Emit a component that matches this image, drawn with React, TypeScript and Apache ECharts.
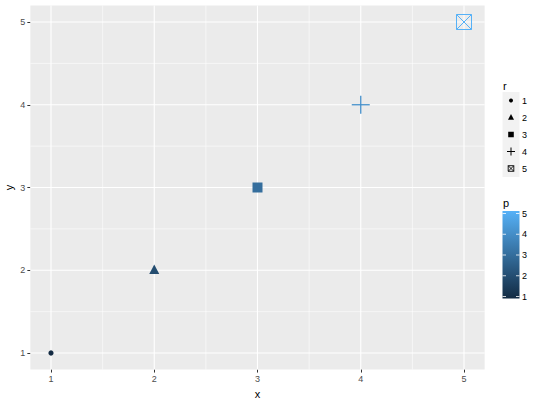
import React, { useEffect, useRef } from "react";
import * as echarts from "echarts";

// ---- data ----
const xValues = [1, 2, 3, 4, 5];
const yValues = [1, 2, 3, 4, 5];
const pValues = [1, 2, 3, 4, 5];
const rValues = [1, 2, 3, 4, 5];
const rLevels = ["1", "2", "3", "4", "5"];
const pTicks = [1, 2, 3, 4, 5];
const xTicks = [1, 2, 3, 4, 5];
const yTicks = [1, 2, 3, 4, 5];
const xMinor = [1.5, 2.5, 3.5, 4.5];
const yMinor = [1.5, 2.5, 3.5, 4.5];

// ---- styles ----
const LOW = "#132B43";
const HIGH = "#56B1F7";
const FONT = "Liberation Sans, Arial, sans-serif";
// marker half-sizes per shape (plot, legend)
const plotSize: Record<number, number> = { 1: 2.6, 2: 5, 3: 5, 4: 9, 5: 7.5 };
const legendSize: Record<number, number> = { 1: 2, 2: 3, 3: 2.8, 4: 4, 5: 2.8 };

function shapeEls(r: number, cx: number, cy: number, h: number, color: string): any[] {
  switch (r) {
    case 1:
      return [{ type: "circle", shape: { cx, cy, r: h }, style: { fill: color } }];
    case 2:
      return [
        {
          type: "polygon",
          shape: { points: [[cx, cy - h * 1.15], [cx - h, cy + h * 0.75], [cx + h, cy + h * 0.75]] },
          style: { fill: color },
        },
      ];
    case 3:
      return [{ type: "rect", shape: { x: cx - h, y: cy - h, width: 2 * h, height: 2 * h }, style: { fill: color } }];
    case 4: {
      const lw = h > 6 ? 1.3 : 1;
      return [
        { type: "line", shape: { x1: cx - h, y1: cy, x2: cx + h, y2: cy }, style: { stroke: color, lineWidth: lw } },
        { type: "line", shape: { x1: cx, y1: cy - h, x2: cx, y2: cy + h }, style: { stroke: color, lineWidth: lw } },
      ];
    }
    default: {
      const lw = h > 5 ? 1 : 0.9;
      return [
        { type: "rect", shape: { x: cx - h, y: cy - h, width: 2 * h, height: 2 * h }, style: { fill: "none", stroke: color, lineWidth: lw } },
        { type: "line", shape: { x1: cx - h, y1: cy - h, x2: cx + h, y2: cy + h }, style: { stroke: color, lineWidth: lw } },
        { type: "line", shape: { x1: cx - h, y1: cy + h, x2: cx + h, y2: cy - h }, style: { stroke: color, lineWidth: lw } },
      ];
    }
  }
}

export default function App() {
  const ref = useRef<HTMLDivElement>(null);
  useEffect(() => {
    if (!ref.current) return;
    const chart = echarts.init(ref.current, null, { renderer: "svg" });

    const pointData = xValues.map((x, i) => [x, yValues[i], pValues[i], rValues[i]]);
    const gridData: number[][] = [
      ...xTicks.map((v) => [v, 1, 0]),
      ...xMinor.map((v) => [v, 1, 1]),
      ...yTicks.map((v) => [1, v, 2]),
      ...yMinor.map((v) => [1, v, 3]),
    ];

    const legendEls: any[] = [];
    // y axis title
    legendEls.push({
      type: "text", x: 9, y: 187.5, rotation: Math.PI / 2,
      style: { text: "y", font: `11px ${FONT}`, fill: "#000", align: "center", verticalAlign: "middle" },
    });
    // shape legend
    legendEls.push({ type: "text", x: 503, y: 80, style: { text: "r", font: `11px ${FONT}`, fill: "#000" } });
    const keyTop = 92;
    rLevels.forEach((lab, i) => {
      const y0 = keyTop + i * 17;
      legendEls.push({ type: "rect", shape: { x: 502.5, y: y0, width: 17, height: 17 }, style: { fill: "#F2F2F2" } });
      shapeEls(i + 1, 511, y0 + 8.5, legendSize[i + 1], "#000").forEach((e) => legendEls.push(e));
      legendEls.push({
        type: "text", x: 522, y: y0 + 8.5,
        style: { text: lab, font: `9px ${FONT}`, fill: "#000", verticalAlign: "middle" },
      });
    });
    // colour bar
    legendEls.push({ type: "text", x: 503, y: 197, style: { text: "p", font: `11px ${FONT}`, fill: "#000" } });
    const barTop = 211, barBot = 298.5;
    const vTop = 213.5, vBot = 296.5;
    legendEls.push({
      type: "rect",
      shape: { x: 502.5, y: barTop, width: 17, height: barBot - barTop },
      style: {
        fill: new echarts.graphic.LinearGradient(0, 0, 0, 1, [
          { offset: 0, color: HIGH },
          { offset: 1, color: LOW },
        ]),
      },
    });
    pTicks.forEach((v) => {
      const y = vBot - ((v - 1) / 4) * (vBot - vTop);
      legendEls.push({ type: "line", shape: { x1: 502.5, y1: y, x2: 506, y2: y }, style: { stroke: "#fff", lineWidth: 0.8 } });
      legendEls.push({ type: "line", shape: { x1: 516, y1: y, x2: 519.5, y2: y }, style: { stroke: "#fff", lineWidth: 0.8 } });
      legendEls.push({
        type: "text", x: 522, y,
        style: { text: String(v), font: `9px ${FONT}`, fill: "#000", verticalAlign: "middle" },
      });
    });

    chart.setOption({
      animation: false,
      backgroundColor: "#fff",
      textStyle: { fontFamily: FONT },
      grid: {
        left: 30.35, right: 55.35, top: 5.45, bottom: 30.45,
        containLabel: false, outerBoundsMode: "none",
        show: true, backgroundColor: "#EBEBEB", borderWidth: 0,
      },
      xAxis: {
        type: "value", min: 0.8, max: 5.2,
        name: "x", nameLocation: "middle", nameGap: 15,
        nameTextStyle: { fontSize: 11, color: "#000" },
        axisLine: { show: false },
        splitLine: { show: false },
        axisTick: { show: true, length: 3, customValues: xTicks, lineStyle: { color: "#333333", width: 1 } },
        axisLabel: { customValues: xTicks, fontSize: 9, color: "#4D4D4D", margin: 5 },
      },
      yAxis: {
        type: "value", min: 0.8, max: 5.2,
        axisLine: { show: false },
        splitLine: { show: false },
        axisTick: { show: true, length: 3, customValues: yTicks, lineStyle: { color: "#333333", width: 1 } },
        axisLabel: { customValues: yTicks, fontSize: 9, color: "#4D4D4D", margin: 5 },
      },
      visualMap: {
        show: false, type: "continuous", seriesIndex: 1, dimension: 2,
        min: 1, max: 5, inRange: { color: [LOW, HIGH] },
      },
      series: [
        {
          type: "custom", silent: true, z: 1,
          encode: { x: 0, y: 1 },
          data: gridData,
          renderItem: (params: any, api: any) => {
            const cs = params.coordSys;
            const kind = api.value(2);
            const major = kind === 0 || kind === 2;
            const style = { stroke: "#FFFFFF", lineWidth: major ? 1.1 : 0.55 };
            if (kind < 2) {
              const p = api.coord([api.value(0), 1]);
              return { type: "line", shape: { x1: p[0], y1: cs.y, x2: p[0], y2: cs.y + cs.height }, style };
            }
            const p = api.coord([1, api.value(1)]);
            return { type: "line", shape: { x1: cs.x, y1: p[1], x2: cs.x + cs.width, y2: p[1] }, style };
          },
        },
        {
          type: "custom", z: 3,
          encode: { x: 0, y: 1 },
          data: pointData,
          renderItem: (_params: any, api: any) => {
            const p = api.coord([api.value(0), api.value(1)]);
            const r = api.value(3);
            const color = api.visual("color");
            return { type: "group", children: shapeEls(r, p[0], p[1], plotSize[r], color) };
          },
        },
      ],
      graphic: legendEls,
    });
    return () => chart.dispose();
  }, []);
  return <div ref={ref} style={{ width: 540, height: 400, position: "absolute", left: 0, top: 0 }} />;
}
